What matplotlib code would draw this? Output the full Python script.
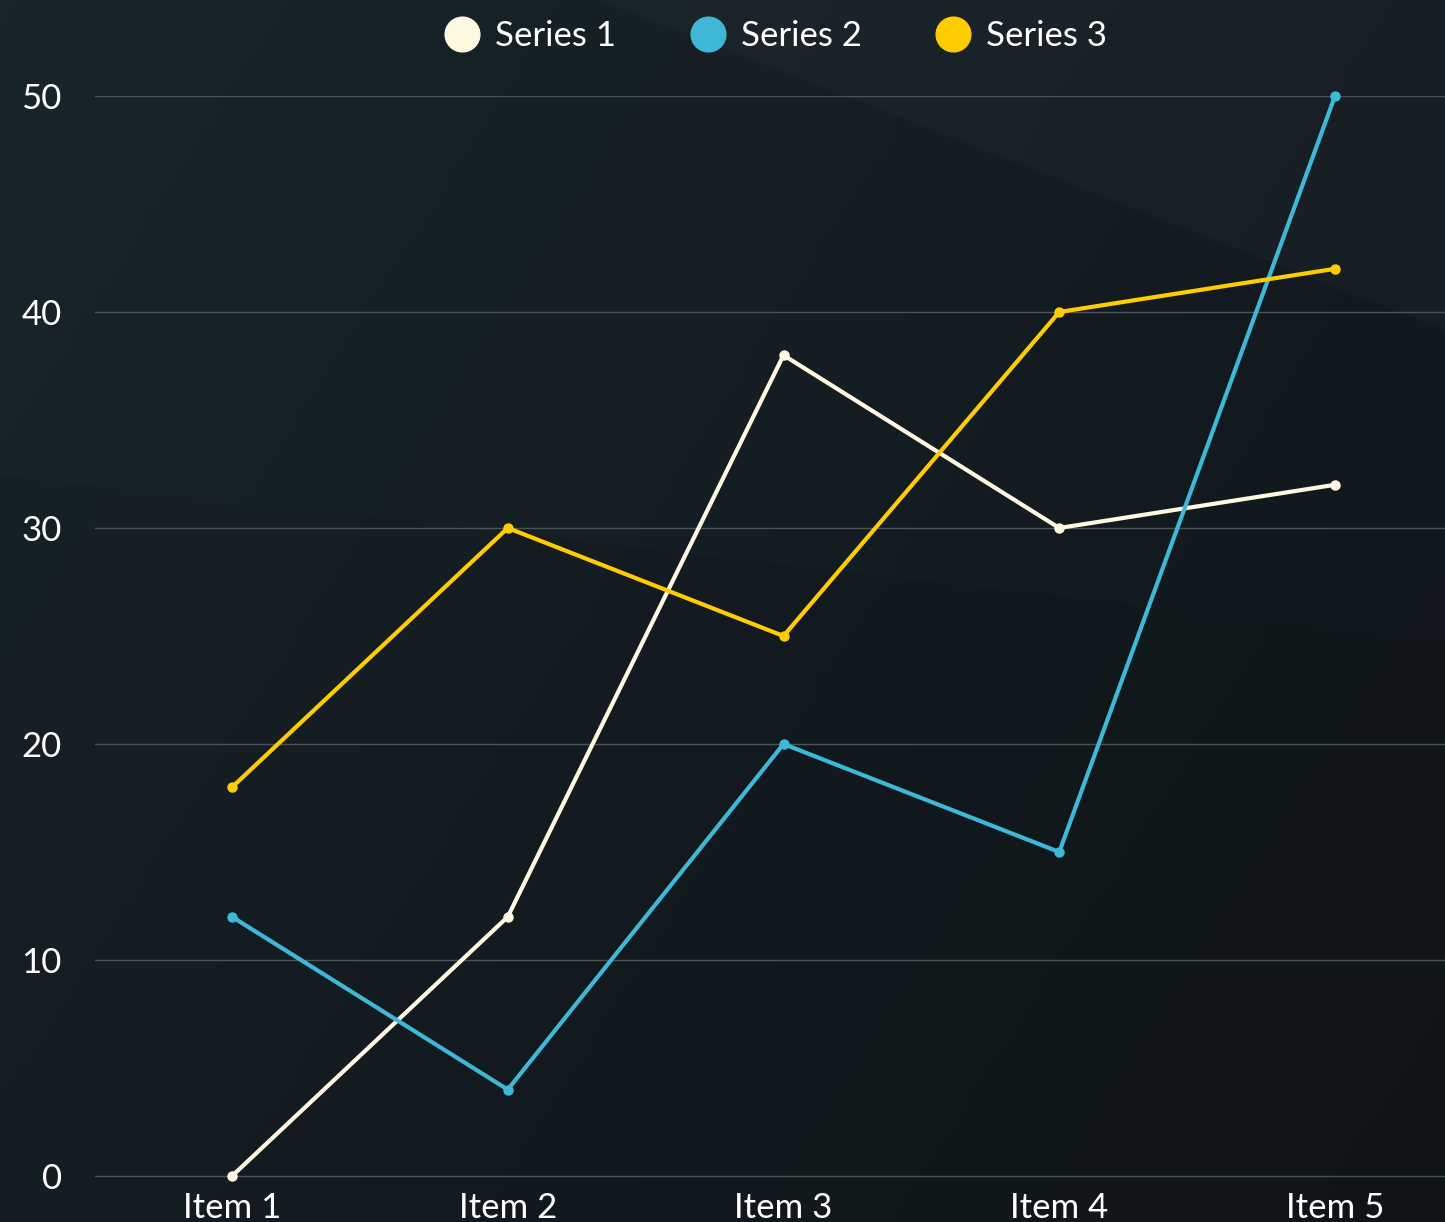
import matplotlib.pyplot as plt
import numpy as np
from matplotlib.colors import LinearSegmentedColormap
from matplotlib.lines import Line2D
from matplotlib.patches import Polygon

categories = ['Item 1', 'Item 2', 'Item 3', 'Item 4', 'Item 5']
series_names = ['Series 1', 'Series 2', 'Series 3']
series1 = [0, 12, 38, 30, 32]
series2 = [12, 4, 20, 15, 50]
series3 = [18, 30, 25, 40, 42]
colors = ['#fff8e1', '#3fb8d8', '#ffcc00']
y_ticks = [0, 10, 20, 30, 40, 50]

plt.rcParams['font.family'] = ['Lato', 'DejaVu Sans']

W, H = 1445, 1222
fig = plt.figure(figsize=(W / 100, H / 100), dpi=100)

# 배경 그라데이션
bg = fig.add_axes([0, 0, 1, 1])
bg.set_axis_off()
gx, gy = np.meshgrid(np.linspace(0, 1, 200), np.linspace(0, 1, 200))
grad = 0.65 * gx + 0.35 * gy
cmap = LinearSegmentedColormap.from_list('bg', ['#18252a', '#10151a'])
bg.imshow(grad, cmap=cmap, extent=[0, 1, 0, 1], aspect='auto', origin='upper')
bg.set_xlim(0, 1)
bg.set_ylim(0, 1)
bg.add_patch(Polygon([(600 / W, 1), (1, 1), (1, 1 - 330 / H)], closed=True,
                     facecolor='#ffffff', alpha=0.025, lw=0))
bg.add_patch(Polygon([(0, 1 - 475 / H), (1, 1 - 640 / H), (1, 0), (0, 0)], closed=True,
                     facecolor='#000000', alpha=0.04, lw=0))

# y축: 0 -> 1176px, 50 -> 96px (21.6 px / 단위)
ax = fig.add_axes([95 / W, (H - 1179) / H, (W - 95) / W, 1083 / H])
ax.patch.set_alpha(0)
x = np.arange(len(categories))
for name, vals, c in zip(series_names, [series1, series2, series3], colors):
    ax.plot(x, vals, color=c, lw=3, marker='o', markersize=6.5, clip_on=False, label=name, zorder=3)

ax.set_ylim(-3 / 21.6, 50)
ax.set_xlim(-0.497, 4.399)
ax.set_yticks(y_ticks)
ax.set_xticks(x)
ax.set_xticklabels(categories)
ax.grid(axis='y', color='#4b5459', lw=1)
ax.set_axisbelow(True)
for s in ax.spines.values():
    s.set_visible(False)
ax.tick_params(axis='both', length=0, colors='white', labelsize=25)
ax.tick_params(axis='y', pad=24)
ax.tick_params(axis='x', pad=9)

handles = [Line2D([], [], ls='none', marker='o', markersize=25, color=c) for c in colors]
fig.legend(handles, series_names, loc='center', bbox_to_anchor=(775 / W, 1 - 36 / H),
           ncol=3, frameon=False, fontsize=25, labelcolor='white',
           handletextpad=0.4, columnspacing=2.1, handlelength=1.1)

plt.savefig('out.png', dpi=100)
